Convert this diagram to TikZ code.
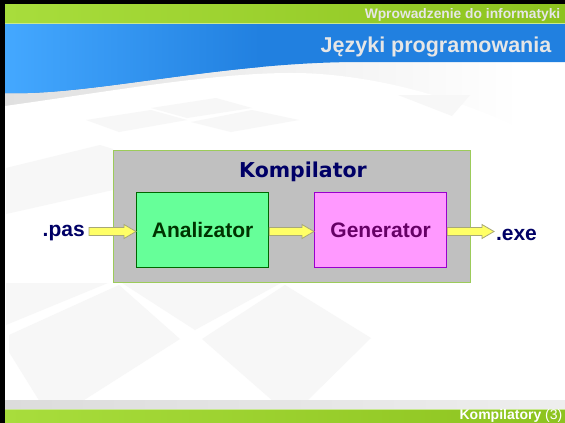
\documentclass[tikz,border=0pt]{standalone}
\usepackage{fontspec}
\setmainfont{Liberation Sans}
\newfontfamily\dejavu{DejaVu Sans}
\usetikzlibrary{calc}
\definecolor{greenL}{HTML}{A8DD3C}
\definecolor{greenR}{HTML}{8DC31F}
\definecolor{greenLine}{HTML}{C8E890}
\definecolor{blueL}{HTML}{44A8FF}
\definecolor{blueR}{HTML}{2180E0}
\definecolor{shadowL}{HTML}{E0E0E0}
\definecolor{shadowM}{HTML}{ECECEC}
\definecolor{tile}{HTML}{F7F7F7}
\definecolor{hdrtext}{HTML}{E6E6E6}
\definecolor{kompfill}{HTML}{C0C0C0}
\definecolor{kompborder}{HTML}{9CCB5A}
\definecolor{anfill}{HTML}{66FF99}
\definecolor{anborder}{HTML}{006600}
\definecolor{antext}{HTML}{003300}
\definecolor{genfill}{HTML}{FF99FF}
\definecolor{genborder}{HTML}{9900CC}
\definecolor{gentext}{HTML}{660066}
\definecolor{navy}{HTML}{000066}
\definecolor{arrfill}{HTML}{FFFF66}
\definecolor{arrborder}{HTML}{A8A878}
\definecolor{footgray}{HTML}{DCDCDC}
\definecolor{footgrayR}{HTML}{EEEEEE}
\tikzset{
  stagebox/.style={inner sep=0, line width=1.2pt, minimum width=132, minimum height=75,
    anchor=north west, font=\fontsize{21}{25}\bfseries},
  labeltext/.style={inner sep=0, text=navy, font=\fontsize{21}{25}\bfseries},
  hdrstyle/.style={inner sep=0, anchor=base east},
  blockarr/.style={fill=arrfill, draw=arrborder, line width=0.8pt, line join=miter}
}
\newcommand{\blockarrow}[2]{%
  \path[blockarr] let \p1=(#1), \p2=(#2), \p3=(axis) in
    (\x1,\y3+4pt) -- (\x2-12pt,\y3+4pt) -- (\x2-12pt,\y3+7pt) -- (\x2,\y3)
    -- (\x2-12pt,\y3-7pt) -- (\x2-12pt,\y3-4pt) -- (\x1,\y3-4pt) -- cycle;}
\begin{document}
\begin{tikzpicture}[x=1pt,y=-1pt]
\useasboundingbox (0,0) rectangle (565,423);
\fill[white] (0,0) rectangle (565,423);
% shadow under the blue wave
\shade[left color=shadowL, middle color=shadowM, right color=white] (5,58) rectangle (520,130);
\fill[white] (5,106) .. controls (120,90) and (240,68) .. (320,74)
  .. controls (400,80) and (470,105) .. (520,128) -- (565,128) -- (565,135) -- (5,135) -- cycle;
% faint background tiles
\fill[tile] (86,120) -- (151,110) -- (187,120) -- (119,132) -- cycle;
\fill[tile] (151,108) -- (216,98) -- (252,108) -- (187,118) -- cycle;
\fill[tile] (191,122) -- (252,110) -- (299,120) -- (231,132) -- cycle;
\fill[tile] (6,168) -- (100,145) -- (113,149) -- (113,190) -- (6,214) -- cycle;
\fill[tile] (9,335) -- (119,285) -- (180,339) -- (81,402) -- (40,402) -- (9,352) -- cycle;
\fill[tile] (202,339) -- (285,285) -- (371,338) -- (306,402) -- (274,402) -- cycle;
\fill[tile] (122,283) -- (281,283) -- (195,330) -- cycle;
\fill[tile] (6,283) -- (108,283) -- (6,325) -- cycle;
\fill[tile] (398,95) -- (470,95) -- (452,116) -- cycle;
% blue title band
\begin{scope}
  \clip (5,23) -- (565,23) -- (565,62) -- (360,62)
    .. controls (220,62) and (90,96) .. (5,93) -- cycle;
  \fill[blueR] (5,20) rectangle (565,100);
  \shade[left color=blueL, right color=blueR] (5,20) rectangle (260,100);
\end{scope}
% green header
\shade[left color=greenL, right color=greenR] (5,4) rectangle (565,23);
\draw[greenLine, line width=1pt] (5,23.3) -- (565,23.3);
% footer
\shade[left color=footgray, right color=footgrayR] (5,400) rectangle (565,409);
\shade[left color=greenL, right color=greenR] (5,409) rectangle (565,423);
\draw[greenLine, line width=0.8pt] (5,409.2) -- (565,409.2);
% black border
\fill[black] (0,0) rectangle (5,423);
\fill[black] (0,0) rectangle (565,4);
% header texts
\node[hdrstyle, text=hdrtext, font=\fontsize{13.8}{16}\bfseries] (hdr) at (560.5,18.5) {Wprowadzenie do informatyki};
\node[hdrstyle, text=hdrtext, font=\fontsize{21.5}{25}\bfseries] (title) at (551.5,52) {Języki programowania};
\node[hdrstyle, text=white, font=\fontsize{14}{16}\selectfont] (foot) at (562.5,419.5) {\textbf{Kompilatory} (3)};
% diagram
\coordinate (axis) at (0,231.5);
\node[draw=kompborder, fill=kompfill, line width=1.2pt, minimum width=357, minimum height=132,
  inner sep=0, anchor=north west] (komp) at (113,150) {};
\node[anchor=base, inner sep=0, text=navy, font={\dejavu\bfseries\fontsize{20.5}{24}\selectfont}] (komptitle) at (303,177.5) {Kompilator};
\node[stagebox, draw=anborder, fill=anfill, text=antext] (an) at (136,192) {Analizator};
\node[stagebox, draw=genborder, fill=genfill, text=gentext] (gen) at (314,192) {Generator};
\node[labeltext, anchor=base east, outer xsep=4.3pt] (pas) at (89,236.5) {.pas};
\node[labeltext, anchor=base west, outer xsep=2pt] (exe) at (494,240) {.exe};
\blockarrow{pas.east}{an.west}
\blockarrow{an.east}{gen.west}
\blockarrow{gen.east}{exe.west}
\end{tikzpicture}
\end{document}
